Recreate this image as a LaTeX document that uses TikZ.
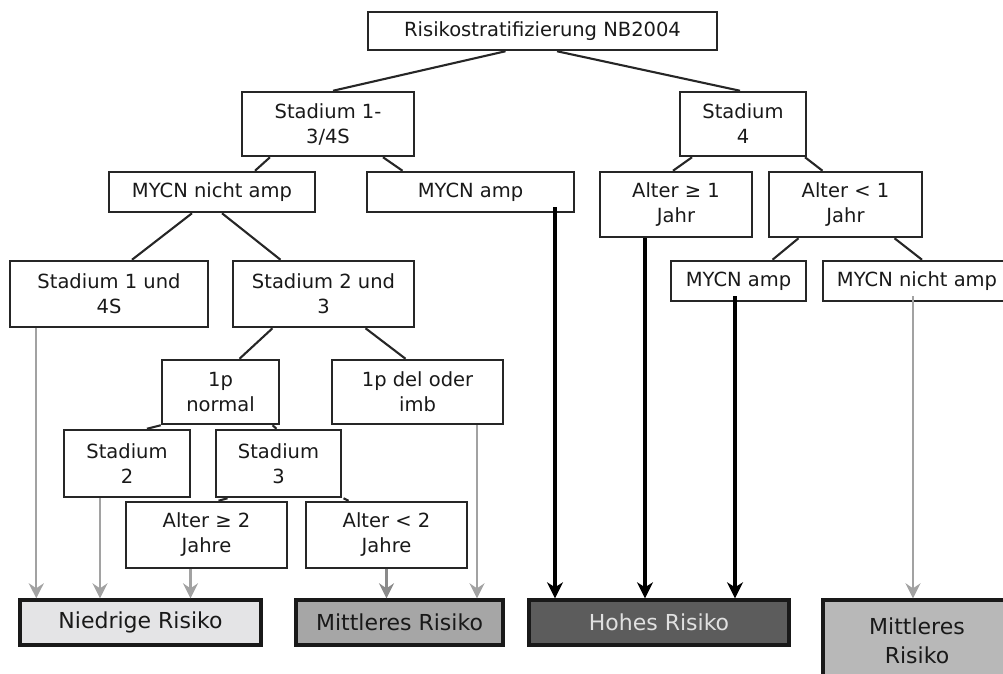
\documentclass[tikz,border=0pt]{standalone}
\usepackage{fontspec}
\setmainfont{DejaVu Sans}
\usetikzlibrary{arrows.meta}
\definecolor{lowfill}{HTML}{E4E4E6}
\definecolor{midfill}{HTML}{A6A6A6}
\definecolor{highfill}{HTML}{5C5C5C}
\definecolor{mid2fill}{HTML}{B8B8B8}
\definecolor{garrow}{HTML}{A2A2A2}
\definecolor{darkgarrow}{HTML}{8A8A8A}
\begin{document}
\begin{tikzpicture}[x=1pt,y=-1pt,
  box/.style={draw=black!85, line width=2.5pt, fill=white, align=center, inner sep=0pt,
    font=\fontsize{19.5}{25}\selectfont, text=black!90},
  result/.style={draw=black!90, line width=3.4pt, align=center, inner sep=0pt,
    font=\fontsize{22}{29}\selectfont},
  link/.style={draw=black!85, line width=2.1pt},
  garr/.style={draw=garrow, line width=2.2pt, -{Stealth[length=15pt,width=15pt,inset=5pt]}},
  dgarr/.style={draw=darkgarrow, line width=2.4pt, -{Stealth[length=15pt,width=15pt,inset=5pt]}},
  barr/.style={draw=black, line width=3.3pt, -{Stealth[length=16pt,width=16pt,inset=5pt]}}]
\useasboundingbox (0,0) rectangle (1003,673);
\begin{scope}
\clip (0,0) rectangle (1003,673);
% top level
\node[box, minimum width=349pt, minimum height=38pt] (root) at (542.5,31) {Risikostratifizierung NB2004};
\node[box, minimum width=172pt, minimum height=64pt] (s13) at (328,124) {Stadium 1-\\3/4S};
\node[box, minimum width=126pt, minimum height=64pt] (s4) at (743,124) {Stadium\\4};
% level 2
\node[box, minimum width=206pt, minimum height=40pt] (mna) at (212,192) {MYCN nicht amp};
\node[box, minimum width=207pt, minimum height=40pt] (ma) at (470.5,192) {MYCN amp};
\node[box, minimum width=152pt, minimum height=65pt] (a1g) at (676,204.5) {Alter ≥ 1\\Jahr};
\node[box, minimum width=153pt, minimum height=65pt] (a1l) at (845.5,204.5) {Alter < 1\\Jahr};
% level 3
\node[box, minimum width=198pt, minimum height=66pt] (s14) at (109,294) {Stadium 1 und\\4S};
\node[box, minimum width=181pt, minimum height=66pt] (s23) at (323.5,294) {Stadium 2 und\\3};
\node[box, minimum width=135pt, minimum height=40pt] (ma2) at (738.5,281) {MYCN amp};
\node[box, minimum width=188pt, minimum height=40pt] (mna2) at (917,281) {MYCN nicht amp};
% level 4
\node[box, minimum width=117pt, minimum height=64pt] (p1n) at (220.5,392) {1p\\normal};
\node[box, minimum width=171pt, minimum height=64pt] (p1d) at (417.5,392) {1p del oder\\imb};
\node[box, minimum width=126pt, minimum height=67pt] (st2) at (127,463.5) {Stadium\\2};
\node[box, minimum width=125pt, minimum height=67pt] (st3) at (278.5,463.5) {Stadium\\3};
\node[box, minimum width=161pt, minimum height=66pt] (a2g) at (206.5,535) {Alter ≥ 2\\Jahre};
\node[box, minimum width=161pt, minimum height=66pt] (a2l) at (386.5,535) {Alter < 2\\Jahre};
% results
\node[result, fill=lowfill, text=black!90, minimum width=241pt, minimum height=45pt] (nied) at (140.5,622.5) {Niedrige Risiko};
\node[result, fill=midfill, text=black!90, minimum width=207pt, minimum height=45pt] (mitt) at (399.5,622.5) {Mittleres Risiko};
\node[result, fill=highfill, text=white!88!black, minimum width=260pt, minimum height=45pt] (hoch) at (659,622.5) {Hohes Risiko};
\node[result, fill=mid2fill, text=black!90, minimum width=188pt, minimum height=82pt] (mitt2) at (917,641) {Mittleres\\Risiko};
% tree links
\draw[link] ([xshift=-37pt]root.south) -- ([xshift=5pt]s13.north);
\draw[link] ([xshift=14.5pt]root.south) -- ([xshift=-3pt]s4.north);
\draw[link] ([xshift=-58pt]s13.south) -- ([xshift=43pt]mna.north);
\draw[link] ([xshift=55pt]s13.south) -- ([xshift=-68pt]ma.north);
\draw[link] ([xshift=-51pt]s4.south) -- ([xshift=-3pt]a1g.north);
\draw[link] ([xshift=62pt]s4.south) -- ([xshift=-23pt]a1l.north);
\draw[link] ([xshift=-20pt]mna.south) -- ([xshift=23pt]s14.north);
\draw[link] ([xshift=10pt]mna.south) -- ([xshift=-43pt]s23.north);
\draw[link] ([xshift=-47pt]a1l.south) -- ([xshift=34pt]ma2.north);
\draw[link] ([xshift=49pt]a1l.south) -- ([xshift=5pt]mna2.north);
\draw[link] ([xshift=-51pt]s23.south) -- ([xshift=19pt]p1n.north);
\draw[link] ([xshift=42pt]s23.south) -- ([xshift=-12pt]p1d.north);
\draw[link] (p1n.south west) -- ([xshift=20pt]st2.north);
\draw[link] ([xshift=52pt]p1n.south) -- ([xshift=-2pt]st3.north);
\draw[link] ([xshift=-51pt]st3.south) -- ([xshift=12pt]a2g.north);
\draw[link] ([xshift=65pt]st3.south) -- ([xshift=-38pt]a2l.north);
% arrows to results
\draw[garr] (s14.south -| nied.west) ++(18pt,0) coordinate (c1) -- (c1 |- nied.north);
\draw[garr] ([xshift=-27pt]st2.south) -- ([xshift=-27pt]st2.south |- nied.north);
\draw[garr] ([xshift=-16pt]a2g.south) -- ([xshift=-16pt]a2g.south |- nied.north);
\draw[dgarr] ([xshift=0pt]a2l.south) -- ([xshift=0pt]a2l.south |- mitt.north);
\draw[garr] ([xshift=59.5pt]p1d.south) -- ([xshift=59.5pt]p1d.south |- mitt.north);
\draw[barr] ([xshift=84.5pt,yshift=6pt]ma.south) -- ([xshift=84.5pt]ma.south |- hoch.north);
\draw[barr] ([xshift=-31pt]a1g.south) -- ([xshift=-31pt]a1g.south |- hoch.north);
\draw[barr] ([xshift=-3.5pt,yshift=6pt]ma2.south) -- ([xshift=-3.5pt]ma2.south |- hoch.north);
\draw[garr] ([xshift=-4pt,yshift=6pt]mna2.south) -- ([xshift=-4pt]mna2.south |- mitt2.north);
\end{scope}
\end{tikzpicture}
\end{document}
